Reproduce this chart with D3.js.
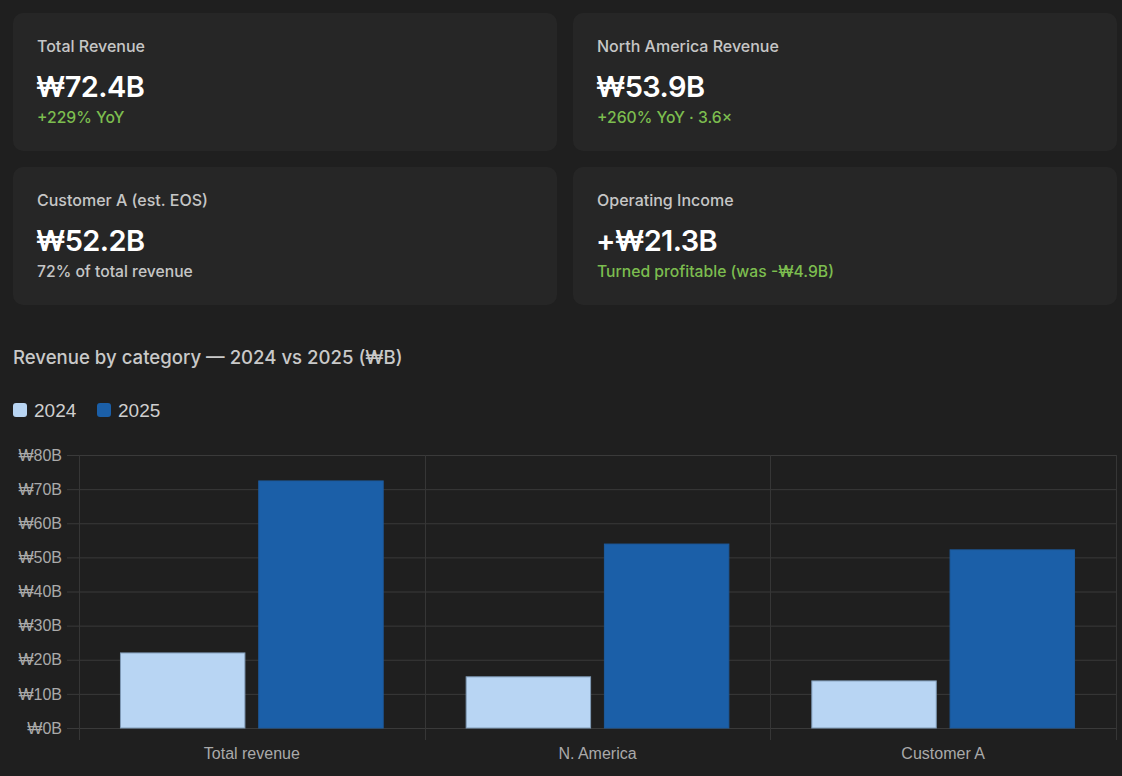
<!DOCTYPE html>
<html>
<head>
<meta charset="utf-8">
<script src="https://cdn.jsdelivr.net/npm/d3@7"></script>
<style>
  html, body { margin: 0; padding: 0; background: #1f1f1f; }
  svg { display: block; }
</style>
</head>
<body>
<svg id="chart" width="1122" height="776"></svg>
<script>
// KPI cards
var cardTitles = ["Total Revenue", "North America Revenue", "Customer A (est. EOS)", "Operating Income"];
var cardValues = ["₩72.4B", "₩53.9B", "₩52.2B", "+₩21.3B"];
var cardNotes = ["+229% YoY", "+260% YoY · 3.6×", "72% of total revenue", "Turned profitable (was -₩4.9B)"];
var cardNoteGood = [true, true, false, true];

// bar chart
var categories = ["Total revenue", "N. America", "Customer A"];
var seriesNames = ["2024", "2025"];
var values2024 = [22.0, 15.0, 13.8];
var values2025 = [72.4, 53.9, 52.2];
var yTicks = [0, 10, 20, 30, 40, 50, 60, 70, 80];

var seriesColors = ["#b8d5f3", "#1b5fa8"];
var seriesBorders = ["#7f9ab5", "#1d5a9c"];

var svg = d3.select("#chart");
var cardFont = "Inter, 'Noto Sans', sans-serif";
var chartFont = "'Liberation Sans', Arial, sans-serif";

// cards 2x2
var cardW = 544, cardH = 138;
var cardX = [13, 573], cardY = [13, 167];
var cards = svg.selectAll("g.card").data(cardTitles).enter().append("g")
  .attr("class", "card")
  .attr("transform", function (d, i) { return "translate(" + cardX[i % 2] + "," + cardY[Math.floor(i / 2)] + ")"; });
cards.append("rect").attr("width", cardW).attr("height", cardH).attr("rx", 10).attr("fill", "#262626");
cards.append("text").attr("x", 24).attr("y", 39).attr("fill", "#c6c6c6").attr("font-family", cardFont)
  .attr("font-size", 16).attr("font-weight", 500).text(function (d) { return d; });
cards.append("text").attr("x", 23).attr("y", 84).attr("fill", "#ffffff").attr("font-family", cardFont)
  .attr("font-size", 29).attr("font-weight", 600).attr("letter-spacing", "-0.6")
  .text(function (d, i) { return cardValues[i]; });
cards.append("text").attr("x", 24).attr("y", 110).attr("font-family", cardFont).attr("font-size", 15.7).attr("font-weight", 500)
  .attr("fill", function (d, i) { return cardNoteGood[i] ? "#7cbd4f" : "#c6c6c6"; })
  .text(function (d, i) { return cardNotes[i]; });

// section title
svg.append("text").attr("x", 13).attr("y", 364).attr("fill", "#c9c9c9").attr("font-family", cardFont)
  .attr("font-size", 18.6).attr("font-weight", 500).text("Revenue by category — 2024 vs 2025 (₩B)");

// legend
var legendX = [13, 97];
var legend = svg.selectAll("g.legend").data(seriesNames).enter().append("g")
  .attr("class", "legend")
  .attr("transform", function (d, i) { return "translate(" + legendX[i] + ",403)"; });
legend.append("rect").attr("width", 14).attr("height", 14).attr("rx", 3)
  .attr("fill", function (d, i) { return seriesColors[i]; });
legend.append("text").attr("x", 21).attr("y", 14).attr("fill", "#cfcfcf").attr("font-family", chartFont)
  .attr("font-size", 19).text(function (d) { return d; });

// plot area
var plotLeft = 79, plotRight = 1116, plotTop = 455, plotBottom = 728;
var x = d3.scaleBand().domain(categories).range([plotLeft, plotRight]).paddingInner(0).paddingOuter(0);
var inner = d3.scaleBand().domain(seriesNames).range([0, x.bandwidth() * 0.8]).paddingInner(0.1).paddingOuter(0.05);
var y = d3.scaleLinear().domain([0, 80]).range([plotBottom, plotTop]);

// y grid + labels
var yAxis = d3.axisLeft(y).tickValues(yTicks).tickSize(-(plotRight - plotLeft + 12)).tickPadding(5)
  .tickFormat(function (d) { return "₩" + d + "B"; });
var gy = svg.append("g").attr("transform", "translate(" + (plotLeft - 12) + ",0)").call(yAxis);
gy.select(".domain").remove();
gy.selectAll(".tick line").attr("stroke", "#3a3a3a").attr("stroke-width", 1);
gy.selectAll(".tick text").attr("fill", "#aaaaaa").attr("font-family", chartFont).attr("font-size", 16);

// x grid (category boundaries) + labels
var bounds = categories.map(function (c) { return x(c); }).concat([plotRight]);
svg.append("g").selectAll("line").data(bounds).enter().append("line")
  .attr("x1", function (d) { return Math.round(d) + 0.5; }).attr("x2", function (d) { return Math.round(d) + 0.5; })
  .attr("y1", plotTop).attr("y2", plotBottom + 12).attr("stroke", "#363636");
var xAxis = d3.axisBottom(x).tickSize(0).tickPadding(20);
var gx = svg.append("g").attr("transform", "translate(0," + plotBottom + ")").call(xAxis);
gx.select(".domain").remove();
gx.selectAll(".tick text").attr("fill", "#aaaaaa").attr("font-family", chartFont).attr("font-size", 16);

// bars
var rows = categories.map(function (c, i) { return { cat: c, vals: [values2024[i], values2025[i]] }; });
var groups = svg.append("g").selectAll("g").data(rows).enter().append("g")
  .attr("transform", function (d) { return "translate(" + (x(d.cat) + x.bandwidth() * 0.1) + ",0)"; });
groups.selectAll("rect").data(function (d) {
  return d.vals.map(function (v, j) { return { s: seriesNames[j], v: v, j: j }; });
}).enter().append("rect")
  .attr("x", function (d) { return inner(d.s); })
  .attr("width", inner.bandwidth())
  .attr("y", function (d) { return y(d.v); })
  .attr("height", function (d) { return plotBottom - y(d.v); })
  .attr("fill", function (d) { return seriesColors[d.j]; })
  .attr("stroke", function (d) { return seriesBorders[d.j]; })
  .attr("stroke-width", 1);
</script>
</body>
</html>
